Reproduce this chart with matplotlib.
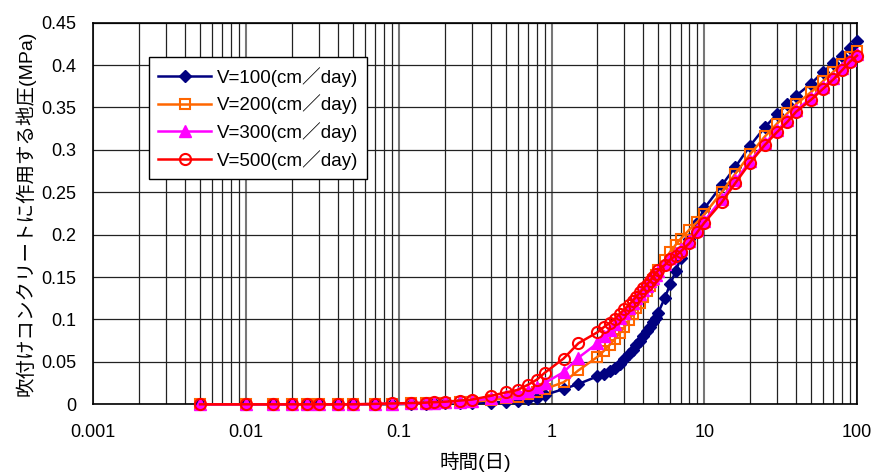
import matplotlib
matplotlib.use('Agg')
import matplotlib.pyplot as plt
from matplotlib.ticker import FixedLocator, FixedFormatter, LogLocator, NullFormatter

plt.rcParams['font.family'] = ['Liberation Sans', 'Noto Sans CJK JP', 'DejaVu Sans']

# elapsed time (days)
t = [0.005, 0.01, 0.015, 0.02, 0.025, 0.03, 0.04, 0.05, 0.07, 0.09,
     0.12, 0.15, 0.17, 0.2, 0.25, 0.3, 0.4, 0.5, 0.6, 0.7,
     0.8, 0.9, 1.2, 1.5, 2.0, 2.2, 2.4, 2.6, 2.8, 3.0,
     3.2, 3.4, 3.6, 3.8, 4.0, 4.2, 4.4, 4.6, 4.8, 5.0,
     5.5, 6.0, 6.5, 7.0, 8, 9, 10, 13, 16, 20,
     25, 30, 35, 40, 50, 60, 70, 80, 90, 100]

# earth pressure on shotcrete (MPa)
p100 = [0, 0, 0, 0, 0, 0, 0, 0, 0, 0,
        0.0005, 0.0008, 0.001, 0.001, 0.0012, 0.0015, 0.002, 0.003, 0.004, 0.006,
        0.008, 0.011, 0.018, 0.024, 0.033, 0.036, 0.039, 0.043, 0.048, 0.054,
        0.059, 0.064, 0.070, 0.075, 0.080, 0.086, 0.091, 0.097, 0.102, 0.108,
        0.125, 0.142, 0.157, 0.172, 0.195, 0.214, 0.231, 0.258, 0.280, 0.305,
        0.327, 0.342, 0.354, 0.364, 0.378, 0.392, 0.402, 0.411, 0.420, 0.428]
p200 = [0, 0, 0, 0, 0, 0, 0, 0, 0.0003, 0.0006,
        0.001, 0.0014, 0.0017, 0.002, 0.0025, 0.003, 0.005, 0.007, 0.009, 0.012,
        0.015, 0.018, 0.026, 0.040, 0.056, 0.063, 0.070, 0.077, 0.084, 0.091,
        0.099, 0.106, 0.113, 0.120, 0.127, 0.134, 0.140, 0.146, 0.152, 0.158,
        0.170, 0.180, 0.188, 0.195, 0.206, 0.215, 0.224, 0.250, 0.272, 0.295,
        0.316, 0.331, 0.343, 0.354, 0.368, 0.381, 0.392, 0.401, 0.410, 0.417]
p300 = [0, 0, 0, 0, 0, 0, 0, 0, 0.0004, 0.0008,
        0.0012, 0.0017, 0.002, 0.0025, 0.003, 0.004, 0.007, 0.010, 0.013, 0.016,
        0.020, 0.025, 0.038, 0.055, 0.072, 0.080, 0.088, 0.095, 0.102, 0.108,
        0.114, 0.120, 0.125, 0.130, 0.135, 0.140, 0.145, 0.149, 0.153, 0.157,
        0.165, 0.172, 0.178, 0.183, 0.193, 0.205, 0.216, 0.242, 0.264, 0.287,
        0.308, 0.323, 0.335, 0.347, 0.361, 0.374, 0.385, 0.396, 0.406, 0.413]
p500 = [0, 0, 0, 0, 0, 0, 0, 0, 0.0005, 0.001,
        0.0015, 0.002, 0.0025, 0.003, 0.0044, 0.0055, 0.010, 0.014, 0.017, 0.023,
        0.029, 0.037, 0.054, 0.072, 0.085, 0.091, 0.096, 0.101, 0.107, 0.112,
        0.117, 0.122, 0.127, 0.132, 0.137, 0.141, 0.145, 0.150, 0.154, 0.158,
        0.164, 0.171, 0.175, 0.180, 0.190, 0.203, 0.214, 0.238, 0.261, 0.285,
        0.306, 0.321, 0.333, 0.345, 0.359, 0.372, 0.383, 0.394, 0.404, 0.411]

labels = ['V=100(cm／day)', 'V=200(cm／day)', 'V=300(cm／day)', 'V=500(cm／day)']

fig = plt.figure(figsize=(8.76, 4.74), dpi=100)
ax = fig.add_axes([0.1065, 0.147, 0.8718, 0.8053])

ax.plot(t, p100, color='#000080', lw=1.8, marker='D', ms=6.5, mfc='#000080', mec='#000080',
        label=labels[0], zorder=3, clip_on=False)
ax.plot(t, p200, color='#FF6600', lw=1.8, marker='s', ms=7.5, mfc='none', mec='#FF6600', mew=1.5,
        label=labels[1], zorder=4, clip_on=False)
ax.plot(t, p300, color='#FF00FF', lw=1.8, marker='^', ms=8, mfc='#FF00FF', mec='#FF00FF',
        label=labels[2], zorder=5, clip_on=False)
ax.plot(t, p500, color='#FF0000', lw=1.8, marker='o', ms=8, mfc='none', mec='#FF0000', mew=1.5,
        label=labels[3], zorder=6, clip_on=False)

ax.set_xscale('log')
ax.set_xlim(0.001, 100)
ax.set_ylim(0, 0.45)

xt = [0.001, 0.01, 0.1, 1, 10, 100]
ax.xaxis.set_major_locator(FixedLocator(xt))
ax.xaxis.set_major_formatter(FixedFormatter(['0.001', '0.01', '0.1', '1', '10', '100']))
ax.xaxis.set_minor_locator(LogLocator(base=10, subs=range(2, 10)))
ax.xaxis.set_minor_formatter(NullFormatter())

yt = [0, 0.05, 0.1, 0.15, 0.2, 0.25, 0.3, 0.35, 0.4, 0.45]
ax.set_yticks(yt)
ax.set_yticklabels(['0', '0.05', '0.1', '0.15', '0.2', '0.25', '0.3', '0.35', '0.4', '0.45'])

ax.grid(which='major', axis='x', color='#777777', lw=1.5)
ax.grid(which='minor', axis='x', color='#222222', lw=0.9)
ax.grid(which='major', axis='y', color='#222222', lw=0.9)
ax.set_axisbelow(True)

ax.tick_params(axis='both', which='both', length=0, labelsize=13)
ax.tick_params(axis='x', pad=14)
ax.tick_params(axis='y', pad=12)
for s in ax.spines.values():
    s.set_color('black')
    s.set_linewidth(1.2)

ax.set_xlabel('時間(日)', fontsize=14, labelpad=8)
ax.set_ylabel('吹付けコンクリートに作用する地圧(MPa)', fontsize=14, labelpad=4)

leg = ax.legend(loc='upper left', bbox_to_anchor=(0.073, 0.909), fontsize=13.5,
                fancybox=False, framealpha=1, edgecolor='black', borderpad=0.5,
                handlelength=2.8, handletextpad=0.3, labelspacing=0.42, borderaxespad=0)
leg.get_frame().set_linewidth(1.0)
leg.set_zorder(10)

fig.savefig('out.png', dpi=100)
